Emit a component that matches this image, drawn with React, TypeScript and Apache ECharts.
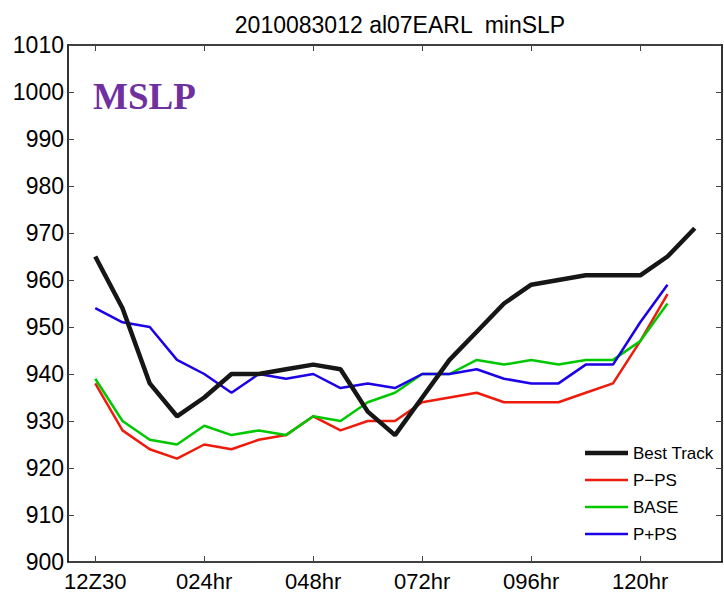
import React, { useEffect, useRef } from "react";
import * as echarts from "echarts";

// Forecast hours (every 6 h from 12Z30)
const trackHours = [0, 6, 12, 18, 24, 30, 36, 42, 48, 54, 60, 66, 72, 78, 84, 90, 96, 102, 108, 114, 120, 126, 132];
const modelHours = [0, 6, 12, 18, 24, 30, 36, 42, 48, 54, 60, 66, 72, 78, 84, 90, 96, 102, 108, 114, 120, 126];

// Minimum sea level pressure (hPa)
const bestTrack = [965, 954, 938, 931, 935, 940, 940, 941, 942, 941, 932, 927, 935, 943, 949, 955, 959, 960, 961, 961, 961, 965, 971];
const pMinusPS = [938, 928, 924, 922, 925, 924, 926, 927, 931, 928, 930, 930, 934, 935, 936, 934, 934, 934, 936, 938, 947, 957];
const base = [939, 930, 926, 925, 929, 927, 928, 927, 931, 930, 934, 936, 940, 940, 943, 942, 943, 942, 943, 943, 947, 955];
const pPlusPS = [954, 951, 950, 943, 940, 936, 940, 939, 940, 937, 938, 937, 940, 940, 941, 939, 938, 938, 942, 942, 951, 959];

const xTicks = [0, 24, 48, 72, 96, 120];
const xTickLabel = (v: number) => (v === 0 ? "12Z30" : String(v).padStart(3, "0") + "hr");

const FONT = "'Liberation Sans', Arial, sans-serif";

const pairs = (xs: number[], ys: number[]) => xs.map((x, i) => [x, ys[i]]);

// Legend swatch: a plain horizontal bar of the given thickness
const bar = (h: number) => `path://M0,0 L43,0 L43,${h} L0,${h} Z`;

export default function App() {
  const ref = useRef<HTMLDivElement>(null);

  useEffect(() => {
    if (!ref.current) return;
    const chart = echarts.init(ref.current, undefined, { renderer: "svg" });

    const axisLine = { show: true, onZero: false, lineStyle: { color: "#000", width: 1.6 } };
    const tick = { show: true, inside: true, length: 6, lineStyle: { color: "#444", width: 1 } };

    const xBase = {
      type: "value" as const,
      min: -6,
      max: 138,
      axisLine,
      splitLine: { show: false },
    };
    const yBase = {
      type: "value" as const,
      min: 900,
      max: 1010,
      interval: 10,
      axisLine,
      splitLine: { show: false },
    };

    chart.setOption({
      animation: false,
      backgroundColor: "#fff",
      textStyle: { fontFamily: FONT },
      title: {
        text: "2010083012 al07EARL  minSLP",
        left: 395,
        top: 8,
        textAlign: "center",
        textStyle: { fontSize: 23, fontWeight: "normal", color: "#000", fontFamily: FONT, lineHeight: 23 },
      },
      grid: { left: 68, right: 2, top: 45, bottom: 35, containLabel: false },
      xAxis: [
        {
          ...xBase,
          position: "bottom",
          axisTick: { ...tick, customValues: xTicks },
          axisLabel: {
            show: true,
            customValues: xTicks,
            formatter: xTickLabel,
            fontSize: 22,
            color: "#000",
            margin: 8,
            fontFamily: FONT,
          },
        },
        {
          ...xBase,
          position: "top",
          axisTick: { ...tick, customValues: xTicks },
          axisLabel: { show: false },
        },
      ],
      yAxis: [
        {
          ...yBase,
          position: "left",
          axisTick: tick,
          axisLabel: {
            show: true,
            fontSize: 23,
            color: "#000",
            margin: 4,
            fontFamily: FONT,
            formatter: (v: number) => String(v),
          },
        },
        {
          ...yBase,
          position: "right",
          axisTick: tick,
          axisLabel: { show: false },
        },
      ],
      legend: {
        orient: "vertical",
        left: 585,
        top: 444,
        padding: 0,
        itemWidth: 43,
        itemHeight: 14,
        itemGap: 9,
        symbolKeepAspect: true,
        textStyle: { fontSize: 17, color: "#000", fontFamily: FONT, lineHeight: 18 },
        data: [
          { name: "Best Track", icon: bar(4.5) },
          { name: "P−PS", icon: bar(2.5) },
          { name: "BASE", icon: bar(2.5) },
          { name: "P+PS", icon: bar(2.5) },
        ],
      },
      series: [
        {
          name: "Best Track",
          type: "line",
          data: pairs(trackHours, bestTrack),
          symbol: "none",
          lineStyle: { color: "#161616", width: 4.5 },
          itemStyle: { color: "#161616" },
          z: 5,
        },
        {
          name: "P−PS",
          type: "line",
          data: pairs(modelHours, pMinusPS),
          symbol: "none",
          lineStyle: { color: "#ec1b0c", width: 2.5 },
          itemStyle: { color: "#ec1b0c" },
        },
        {
          name: "BASE",
          type: "line",
          data: pairs(modelHours, base),
          symbol: "none",
          lineStyle: { color: "#00c800", width: 2.5 },
          itemStyle: { color: "#00c800" },
        },
        {
          name: "P+PS",
          type: "line",
          data: pairs(modelHours, pPlusPS),
          symbol: "none",
          lineStyle: { color: "#1c00e6", width: 2.5 },
          itemStyle: { color: "#1c00e6" },
        },
      ],
      graphic: [
        {
          type: "text",
          left: 93,
          top: 78,
          style: {
            text: "MSLP",
            fill: "#7030a0",
            font: "bold 37px 'Liberation Serif', 'Times New Roman', serif",
          },
        },
      ],
    });

    return () => chart.dispose();
  }, []);

  return (
    <div
      ref={ref}
      style={{ position: "fixed", left: 0, top: 0, width: 724, height: 597, background: "#fff" }}
    />
  );
}
